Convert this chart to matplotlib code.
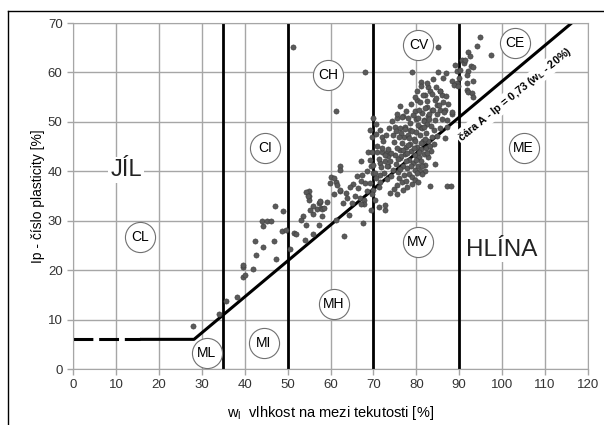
import matplotlib.pyplot as plt
from matplotlib.lines import Line2D

SANS = ["Liberation Sans", "DejaVu Sans"]

# measured samples (liquid limit wL, plasticity index Ip)
samples = [
    (28.0, 8.8), (34.0, 11.1), (35.6, 13.8), (38.2, 14.6), (39.6, 18.6), (40.1, 19.0),
    (39.6, 20.6), (39.6, 21.0), (42.0, 20.2), (42.7, 23.0), (44.2, 24.6), (42.5, 25.8),
    (46.9, 25.8), (47.4, 22.3), (44.2, 28.9), (44.1, 30.0), (45.1, 30.0), (46.1, 30.0),
    (47.1, 33.0), (49.0, 32.0), (48.8, 27.9), (49.7, 28.2), (51.2, 65.1),
    (50.5, 24.3), (51.4, 27.6), (51.9, 27.3), (53.5, 31.0), (53.1, 30.2), (54.4, 29.1),
    (54.1, 26.0), (56.0, 31.4), (56.9, 32.3), (57.8, 32.5), (57.3, 33.5), (58.0, 32.4),
    (58.1, 31.0), (57.5, 33.7), (59.1, 33.8), (55.0, 36.0), (55.0, 35.0), (55.0, 34.2),
    (57.4, 29.1), (55.9, 27.3), (60.7, 35.4), (61.2, 37.9), (60.0, 38.8), (62.1, 41.0),
    (62.1, 40.3), (62.1, 36.0), (63.6, 35.7), (65.2, 37.4), (66.1, 39.1), (67.1, 42.0),
    (67.1, 38.1), (68.1, 37.7), (68.5, 40.0), (67.4, 39.3), (65.7, 35.0), (66.9, 34.6),
    (67.7, 34.2), (67.9, 33.3), (67.1, 33.3), (64.4, 31.1), (61.2, 30.2), (67.5, 29.6),
    (63.1, 26.9), (69.5, 32.1), (69.2, 42.3), (69.5, 41.1), (69.8, 39.6), (69.2, 37.6),
    (70.0, 36.2), (61.2, 52.2), (68.1, 60.1), (64.6, 36.9), (66.5, 36.6), (68.4, 36.1),
    (69.6, 35.5), (70.4, 34.2), (71.2, 32.8), (72.7, 32.2), (60.7, 38.6), (59.9, 37.6),
    (61.5, 37.2), (62.2, 36.2), (63.8, 34.5), (63.0, 33.5), (65.0, 33.5), (56.0, 32.9),
    (55.2, 32.2), (57.6, 33.9), (58.4, 32.5), (54.4, 35.9), (54.8, 34.9), (69.2, 48.4),
    (69.6, 47.0), (70.6, 47.6), (71.9, 47.0), (68.8, 44.0), (69.6, 44.0), (70.8, 44.0),
    (71.9, 44.0), (73.1, 44.0), (73.4, 43.0), (70.0, 41.3), (71.6, 41.6), (72.7, 42.0),
    (73.3, 41.0),
    (83.1, 37.0), (87.1, 37.0), (88.0, 37.0), (84.4, 41.5), (82.1, 40.0), (75.5, 35.5),
    (72.7, 33.2), (71.2, 36.9), (71.6, 37.9), (70.4, 39.6), (71.6, 39.3), (86.7, 46.8),
    (88.3, 51.6), (79.1, 60.1), (85.0, 60.1), (85.0, 65.1), (94.9, 67.1), (94.2, 65.3),
    (92.1, 64.1), (92.4, 63.4), (97.3, 63.6), (92.8, 61.2), (92.1, 60.3), (91.7, 59.5),
    (93.3, 58.3), (91.7, 56.5), (92.1, 56.0), (92.9, 55.8), (93.3, 55.1), (91.7, 57.8),
    (88.9, 61.5), (89.4, 60.3), (90.2, 60.5), (88.3, 58.2), (89.4, 57.8), (88.8, 57.5),
    (89.8, 57.2), (90.0, 58.8), (90.6, 62.6), (91.0, 61.9), (91.4, 62.6), (93.1, 61.0),
    (81.0, 58.0), (80.1, 54.5), (79.7, 52.1), (82.8, 57.1), (83.2, 56.2), (82.1, 55.5),
    (85.5, 56.2), (85.9, 55.5), (84.4, 54.5), (84.8, 53.5), (86.3, 54.1), (85.5, 52.4),
    (86.7, 52.4), (82.4, 53.1), (83.6, 52.4), (82.8, 51.1), (88.3, 51.9), (87.1, 50.4),
    (87.1, 49.0), (81.7, 50.4), (80.9, 49.0), (78.6, 48.4), (75.4, 50.7), (77.0, 51.1),
    (75.1, 49.0), (76.2, 48.7), (77.4, 49.0),
    (74.5, 40.2), (75.2, 41.5), (75.8, 39.8), (76.3, 42.6), (76.9, 41.0), (77.4, 43.5),
    (77.9, 40.6), (78.3, 42.2), (78.8, 44.1), (79.2, 41.7), (79.7, 43.2), (80.1, 45.0),
    (80.6, 42.8), (81.0, 44.6), (81.5, 46.2), (76.1, 44.3), (76.7, 45.8), (77.2, 46.9),
    (77.6, 44.9), (78.1, 47.4), (78.6, 45.6), (79.1, 48.2), (79.5, 46.5), (80.0, 47.9),
    (80.4, 49.3), (80.9, 47.3), (81.3, 48.8), (81.8, 50.2), (82.2, 47.8), (82.6, 49.6),
    (75.0, 43.2), (75.5, 44.8), (74.8, 45.9), (73.9, 42.1), (74.2, 43.8), (73.5, 44.6),
    (76.0, 38.6), (76.6, 37.9), (77.1, 39.2), (77.7, 38.1), (78.4, 39.5), (79.0, 38.9),
    (79.6, 40.2), (80.3, 41.1), (80.8, 40.0), (81.2, 42.1), (81.7, 43.4), (82.3, 44.7),
    (82.8, 46.1), (83.2, 45.2), (83.6, 47.0), (84.0, 48.4), (83.4, 49.2), (84.3, 50.3),
    (84.8, 51.6), (83.9, 52.4), (82.9, 51.5), (82.0, 52.9), (81.4, 51.7), (80.7, 52.5),
    (79.9, 50.6), (79.3, 51.4), (78.6, 49.7), (78.0, 50.8), (77.3, 48.6), (76.5, 47.8),
    (75.9, 47.0), (75.3, 48.2), (74.6, 47.3), (73.2, 41.0), (72.6, 43.3), (72.1, 44.7),
    (71.4, 42.5), (70.9, 45.2), (74.0, 39.0), (73.1, 38.4), (72.5, 39.7), (71.8, 40.9),
    (70.6, 38.7), (75.4, 37.2), (74.7, 36.4), (73.8, 35.7), (76.8, 36.3), (77.9, 36.8),
    (78.9, 37.5), (79.8, 38.3), (80.5, 37.9), (81.3, 39.4), (82.1, 41.2), (82.7, 42.9),
    (83.5, 44.1), (84.2, 45.6), (84.9, 47.2), (85.5, 48.8), (85.9, 50.6), (86.4, 52.0),
    (85.3, 53.4), (84.6, 54.8), (83.7, 55.6), (82.5, 54.3), (81.6, 55.4), (80.9, 54.1),
    (80.2, 56.2), (81.2, 57.3), (82.4, 57.9), (83.8, 58.6), (84.5, 57.1), (85.6, 56.3),
    (86.8, 55.2), (87.4, 53.7), (86.1, 58.9), (87.0, 59.8), (78.8, 53.6), (79.6, 55.0),
    (77.5, 52.2), (76.7, 50.9), (76.2, 53.3), (75.4, 51.6), (74.3, 50.2), (73.6, 48.8),
    (72.9, 47.4), (72.2, 46.1), (71.5, 48.3), (70.7, 49.6), (69.8, 50.7), (79.4, 44.8),
    (78.0, 45.3), (80.7, 43.9), (79.9, 42.3), (78.7, 41.0), (77.5, 42.0), (76.2, 40.5),
    (77.0, 44.4), (78.4, 46.8), (79.7, 46.1), (81.0, 45.8), (82.1, 46.5), (80.5, 50.8),
    (83.0, 50.5), (81.9, 49.0), (76.4, 43.1), (75.7, 42.4), (77.8, 43.8), (81.4, 41.0),
    (82.6, 43.6), (80.2, 39.6),
]

# boundaries of the plasticity chart
zone_limits = [35, 50, 70, 90]
a_line_x = [15.6, 28.2, 116.2]
a_line_y = [6, 6, 70]
dashed_x = [0, 15.6]
dashed_y = [6, 6]

zone_labels = ["CL", "CI", "CH", "CV", "CE", "ML", "MI", "MH", "MV", "ME"]
zone_label_x = [15.6, 44.8, 59.5, 80.5, 103.0, 31.2, 44.4, 60.7, 80.3, 105.0]
zone_label_y = [26.8, 44.7, 59.5, 65.6, 65.9, 3.2, 5.2, 13.1, 25.6, 44.7]

fig = plt.figure(figsize=(6.04, 4.25), dpi=100)
ax = fig.add_axes([73 / 604, 56 / 425, 515 / 604, 346 / 425])

ax.set_xlim(0, 120)
ax.set_ylim(0, 70)
ax.set_xticks(range(0, 121, 10))
ax.set_yticks(range(0, 71, 10))
ax.grid(True, color="#a6a6a6", linewidth=1.0, zorder=0)
ax.set_axisbelow(True)
for side in ["top", "right", "left", "bottom"]:
    ax.spines[side].set_color("#a6a6a6")
ax.tick_params(colors="#a6a6a6", length=4, width=1.0, labelcolor="#333333", labelsize=9.5)
for label in ax.get_xticklabels() + ax.get_yticklabels():
    label.set_fontfamily(SANS)

for wl in zone_limits:
    ax.axvline(wl, color="black", linewidth=2.0, zorder=2)
ax.plot(a_line_x, a_line_y, color="black", linewidth=2.2, solid_capstyle="butt", zorder=2)
ax.plot(dashed_x, dashed_y, color="black", linewidth=2.2, dashes=(6.5, 1.9), zorder=2)

wl_vals = [s[0] for s in samples]
ip_vals = [s[1] for s in samples]
ax.scatter(wl_vals, ip_vals, s=14, color="#5a5a5a", edgecolor="#3c3c3c", linewidth=0.4, zorder=3)

ax.scatter(zone_label_x, zone_label_y, s=470, facecolor="white", edgecolor="#707070",
           linewidth=0.8, zorder=5)
for name, x, y in zip(zone_labels, zone_label_x, zone_label_y):
    ax.text(x, y, name, ha="center", va="center", fontsize=10, family=SANS, zorder=6)

ax.text(12.4, 40.3, "JÍL", ha="center", va="center", fontsize=17, family=SANS, color="#222222",
        bbox=dict(facecolor="white", edgecolor="none", pad=1.5), zorder=4)
ax.text(100.0, 24.1, "HLÍNA", ha="center", va="center", fontsize=17.5, family=SANS, color="#222222",
        bbox=dict(facecolor="white", edgecolor="none", pad=1.0), zorder=4)
ax.text(103.0, 55.6, "čára A - Ip = 0,73 (w$_\\mathregular{L}$ - 20%)", ha="center", va="center",
        rotation=39, rotation_mode="anchor", fontsize=7.8, fontweight="bold", family=SANS,
        bbox=dict(facecolor="white", edgecolor="none", pad=1.0), zorder=6)

ax.set_ylabel("Ip - číslo plasticity [%]", fontsize=10, family=SANS, labelpad=2)
ax.set_xlabel("w$_\\mathregular{l}$  vlhkost na mezi tekutosti [%]", fontsize=10.5, family=SANS, labelpad=9)

fig.add_artist(Line2D([8 / 604, 8 / 604], [0, 1 - 11 / 425], color="black", linewidth=1.0))
fig.add_artist(Line2D([8 / 604, 1], [1 - 11 / 425, 1 - 11 / 425], color="black", linewidth=1.0))

fig.savefig("out.png", dpi=100)
